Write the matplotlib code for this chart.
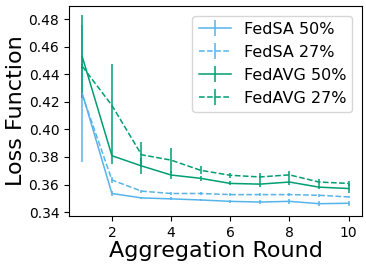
import numpy as np
import matplotlib
matplotlib.use('Agg')
import matplotlib.pyplot as plt

# DATA
rounds = [1, 2, 3, 4, 5, 6, 7, 8, 9, 10]

fedsa50 = [0.426, 0.3535, 0.3503, 0.3496, 0.3488, 0.3478, 0.3473, 0.3478, 0.3461, 0.3464]
fedsa50_err = [0.050, 0.0015, 0.001, 0.001, 0.001, 0.001, 0.0015, 0.002, 0.002, 0.002]

fedsa27 = [0.425, 0.3633, 0.3552, 0.3535, 0.3535, 0.3527, 0.3527, 0.3527, 0.3522, 0.351]
fedsa27_err = [0.002, 0.002, 0.001, 0.001, 0.001, 0.001, 0.001, 0.001, 0.001, 0.001]

fedavg50 = [0.4526, 0.3809, 0.3735, 0.3669, 0.3645, 0.3608, 0.3603, 0.3618, 0.3581, 0.3571]
fedavg50_err = [0.030, 0.006, 0.006, 0.003, 0.002, 0.0015, 0.002, 0.002, 0.0015, 0.003]

fedavg27 = [0.4457, 0.4174, 0.3816, 0.3777, 0.3703, 0.3667, 0.3655, 0.367, 0.3618, 0.3608]
fedavg27_err = [0.002, 0.030, 0.009, 0.009, 0.003, 0.002, 0.003, 0.003, 0.002, 0.002]

blue = '#56B4E9'
green = '#009E73'

# PLOT
fig = plt.figure(figsize=(3.66, 2.70), dpi=100)
ax = fig.add_axes([0.1885, 0.2, 0.8005, 0.778])

ax.errorbar(rounds, fedsa50, yerr=fedsa50_err, color=blue, linestyle='-', lw=1.1, label='FedSA 50%')
ax.errorbar(rounds, fedsa27, yerr=fedsa27_err, color=blue, linestyle='--', lw=1.1, label='FedSA 27%')
ax.errorbar(rounds, fedavg50, yerr=fedavg50_err, color=green, linestyle='-', lw=1.1, label='FedAVG 50%')
ax.errorbar(rounds, fedavg27, yerr=fedavg27_err, color=green, linestyle='--', lw=1.1, label='FedAVG 27%')

ax.set_xticks([2, 4, 6, 8, 10])
ax.set_yticks([0.34, 0.36, 0.38, 0.40, 0.42, 0.44, 0.46, 0.48])
ax.tick_params(labelsize=10)

ax.set_xlabel("Aggregation Round", fontsize=16, labelpad=1)
ax.set_ylabel("Loss Function", fontsize=16, labelpad=2)

ax.legend(loc='upper right', fontsize=11.5, borderaxespad=0.6)

plt.savefig('out.png', dpi=100)
